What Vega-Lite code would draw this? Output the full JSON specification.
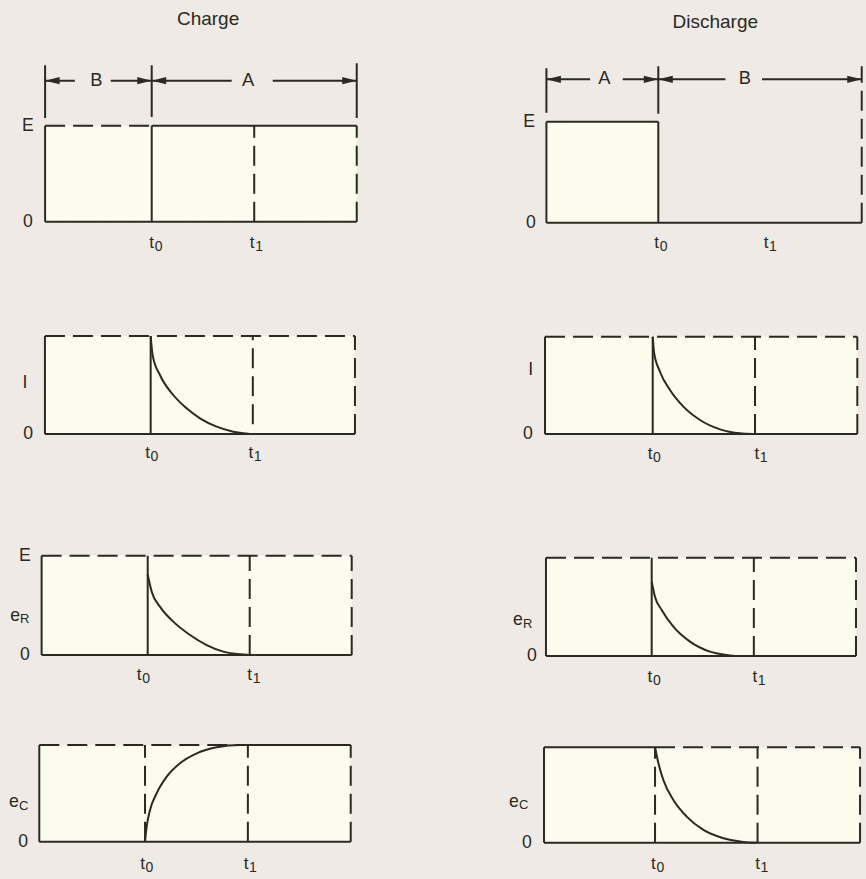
{
"$schema":"https://vega.github.io/schema/vega-lite/v6.json",
"background":"#efeae6",
"padding":0,
"config":{"view":{"stroke":null},"concat":{"spacing":0}},
"datasets":{"d":[
{"p":"C1","g":"area","x":-1.04,"x2":2,"y":0,"y2":1},
{"p":"C1","g":"seg","x":-1.04,"y":1,"x2":0,"y2":1,"k":"dashed"},
{"p":"C1","g":"seg","x":0,"y":1,"x2":2,"y2":1,"k":"solid"},
{"p":"C1","g":"seg","x":-1.04,"y":0,"x2":2,"y2":0,"k":"solid"},
{"p":"C1","g":"seg","x":-1.04,"y":0,"x2":-1.04,"y2":1,"k":"solid"},
{"p":"C1","g":"seg","x":0,"y":0,"x2":0,"y2":1,"k":"solid"},
{"p":"C1","g":"seg","x":1,"y":0,"x2":1,"y2":1,"k":"dashed"},
{"p":"C1","g":"seg","x":2,"y":0,"x2":2,"y2":1,"k":"dashed"},
{"p":"C1","g":"seg","x":-1.04,"y":1.08,"x2":-1.04,"y2":1.63,"k":"solid"},
{"p":"C1","g":"seg","x":0,"y":1.09,"x2":0,"y2":1.63,"k":"solid"},
{"p":"C1","g":"seg","x":2,"y":1.08,"x2":2,"y2":1.65,"k":"solid"},
{"p":"C1","g":"seg","x":-1.04,"y":1.468,"x2":-0.75,"y2":1.468,"k":"solid"},
{"p":"C1","g":"seg","x":-0.4,"y":1.468,"x2":0,"y2":1.468,"k":"solid"},
{"p":"C1","g":"seg","x":0,"y":1.468,"x2":0.78,"y2":1.468,"k":"solid"},
{"p":"C1","g":"seg","x":1.18,"y":1.468,"x2":2,"y2":1.468,"k":"solid"},
{"p":"C1","g":"head","x":-1.04,"y":1.468,"d":"left"},
{"p":"C1","g":"head","x":0,"y":1.468,"d":"right"},
{"p":"C1","g":"head","x":0,"y":1.468,"d":"left"},
{"p":"C1","g":"head","x":2,"y":1.468,"d":"right"},
{"p":"C1","g":"label","x":0.55,"y":2.11,"t":"Charge","r":"title"},
{"p":"C1","g":"label","x":-0.54,"y":1.468,"t":"B","r":"dim"},
{"p":"C1","g":"label","x":0.94,"y":1.468,"t":"A","r":"dim"},
{"p":"C1","g":"label","x":-1.207,"y":1,"t":"E","s":"","r":"side"},
{"p":"C1","g":"label","x":-1.207,"y":0,"t":"0","s":"","r":"side"},
{"p":"C1","g":"label","x":0,"y":-0.222,"t":"t","s":"0","r":"tick"},
{"p":"C1","g":"label","x":0.98,"y":-0.222,"t":"t","s":"1","r":"tick"},

{"p":"D1","g":"area","x":-1.1,"x2":0,"y":0,"y2":1},
{"p":"D1","g":"seg","x":-1.1,"y":1,"x2":0,"y2":1,"k":"solid"},
{"p":"D1","g":"seg","x":-1.1,"y":0,"x2":2,"y2":0,"k":"solid"},
{"p":"D1","g":"seg","x":-1.1,"y":0,"x2":-1.1,"y2":1,"k":"solid"},
{"p":"D1","g":"seg","x":0,"y":0,"x2":0,"y2":1,"k":"solid"},
{"p":"D1","g":"seg","x":2,"y":0,"x2":2,"y2":1.55,"k":"dashed"},
{"p":"D1","g":"seg","x":-1.1,"y":1.09,"x2":-1.1,"y2":1.53,"k":"solid"},
{"p":"D1","g":"seg","x":0,"y":1.08,"x2":0,"y2":1.55,"k":"solid"},
{"p":"D1","g":"seg","x":-1.1,"y":1.42,"x2":-0.67,"y2":1.42,"k":"solid"},
{"p":"D1","g":"seg","x":-0.35,"y":1.42,"x2":0,"y2":1.42,"k":"solid"},
{"p":"D1","g":"seg","x":0,"y":1.42,"x2":0.66,"y2":1.42,"k":"solid"},
{"p":"D1","g":"seg","x":1.02,"y":1.42,"x2":2,"y2":1.42,"k":"solid"},
{"p":"D1","g":"head","x":-1.1,"y":1.42,"d":"left"},
{"p":"D1","g":"head","x":0,"y":1.42,"d":"right"},
{"p":"D1","g":"head","x":0,"y":1.42,"d":"left"},
{"p":"D1","g":"head","x":2,"y":1.42,"d":"right"},
{"p":"D1","g":"label","x":0.56,"y":1.987,"t":"Discharge","r":"title"},
{"p":"D1","g":"label","x":-0.53,"y":1.42,"t":"A","r":"dim"},
{"p":"D1","g":"label","x":0.85,"y":1.42,"t":"B","r":"dim"},
{"p":"D1","g":"label","x":-1.271,"y":1,"t":"E","s":"","r":"side"},
{"p":"D1","g":"label","x":-1.252,"y":0,"t":"0","s":"","r":"side"},
{"p":"D1","g":"label","x":-0.016,"y":-0.205,"t":"t","s":"0","r":"tick"},
{"p":"D1","g":"label","x":1.06,"y":-0.205,"t":"t","s":"1","r":"tick"},

{"p":"C2","g":"area","x":-1.035,"x2":2,"y":0,"y2":1},
{"p":"C2","g":"seg","x":-1.035,"y":1,"x2":2,"y2":1,"k":"dashed"},
{"p":"C2","g":"seg","x":-1.035,"y":0,"x2":2,"y2":0,"k":"solid"},
{"p":"C2","g":"seg","x":-1.035,"y":0,"x2":-1.035,"y2":1,"k":"solid"},
{"p":"C2","g":"seg","x":0,"y":0,"x2":0,"y2":1,"k":"solid"},
{"p":"C2","g":"seg","x":1,"y":0.1,"x2":1,"y2":1,"k":"dashed"},
{"p":"C2","g":"seg","x":2,"y":0,"x2":2,"y2":1,"k":"dashed"},
{"p":"C2","g":"curve","x":0,"y":1},
{"p":"C2","g":"curve","x":0.02,"y":0.8},
{"p":"C2","g":"curve","x":0.091,"y":0.602},
{"p":"C2","g":"curve","x":0.221,"y":0.398},
{"p":"C2","g":"curve","x":0.352,"y":0.262},
{"p":"C2","g":"curve","x":0.483,"y":0.16},
{"p":"C2","g":"curve","x":0.646,"y":0.075},
{"p":"C2","g":"curve","x":0.809,"y":0.024},
{"p":"C2","g":"curve","x":0.907,"y":0.007},
{"p":"C2","g":"curve","x":0.97,"y":0},
{"p":"C2","g":"label","x":-1.23,"y":0.52,"t":"I","s":"","r":"side"},
{"p":"C2","g":"label","x":-1.2,"y":0,"t":"0","s":"","r":"side"},
{"p":"C2","g":"label","x":-0.03,"y":-0.197,"t":"t","s":"0","r":"tick"},
{"p":"C2","g":"label","x":0.98,"y":-0.197,"t":"t","s":"1","r":"tick"},

{"p":"D2","g":"area","x":-1.053,"x2":2,"y":0,"y2":1},
{"p":"D2","g":"seg","x":-1.053,"y":1,"x2":2,"y2":1,"k":"dashed"},
{"p":"D2","g":"seg","x":-1.053,"y":0,"x2":2,"y2":0,"k":"solid"},
{"p":"D2","g":"seg","x":-1.053,"y":0,"x2":-1.053,"y2":1,"k":"solid"},
{"p":"D2","g":"seg","x":0,"y":0,"x2":0,"y2":1,"k":"solid"},
{"p":"D2","g":"seg","x":1,"y":0,"x2":1,"y2":1,"k":"dashed"},
{"p":"D2","g":"seg","x":2,"y":0,"x2":2,"y2":1,"k":"dashed"},
{"p":"D2","g":"curve","x":0,"y":1},
{"p":"D2","g":"curve","x":0.013,"y":0.84},
{"p":"D2","g":"curve","x":0.071,"y":0.64},
{"p":"D2","g":"curve","x":0.169,"y":0.452},
{"p":"D2","g":"curve","x":0.3,"y":0.281},
{"p":"D2","g":"curve","x":0.462,"y":0.144},
{"p":"D2","g":"curve","x":0.658,"y":0.048},
{"p":"D2","g":"curve","x":0.853,"y":0.007},
{"p":"D2","g":"curve","x":0.98,"y":0},
{"p":"D2","g":"label","x":-1.193,"y":0.658,"t":"I","s":"","r":"side"},
{"p":"D2","g":"label","x":-1.219,"y":0,"t":"0","s":"","r":"side"},
{"p":"D2","g":"label","x":-0.026,"y":-0.206,"t":"t","s":"0","r":"tick"},
{"p":"D2","g":"label","x":1.017,"y":-0.206,"t":"t","s":"1","r":"tick"},

{"p":"C3","g":"area","x":-1.04,"x2":2,"y":0,"y2":1},
{"p":"C3","g":"seg","x":-1.04,"y":1,"x2":2,"y2":1,"k":"dashed"},
{"p":"C3","g":"seg","x":-1.04,"y":0,"x2":2,"y2":0,"k":"solid"},
{"p":"C3","g":"seg","x":-1.04,"y":0,"x2":-1.04,"y2":1,"k":"solid"},
{"p":"C3","g":"seg","x":0,"y":0,"x2":0,"y2":1,"k":"solid"},
{"p":"C3","g":"seg","x":1,"y":0,"x2":1,"y2":1,"k":"dashed"},
{"p":"C3","g":"seg","x":2,"y":0,"x2":2,"y2":1,"k":"dashed"},
{"p":"C3","g":"curve","x":0,"y":0.81},
{"p":"C3","g":"curve","x":0.039,"y":0.638},
{"p":"C3","g":"curve","x":0.12,"y":0.487},
{"p":"C3","g":"curve","x":0.251,"y":0.336},
{"p":"C3","g":"curve","x":0.415,"y":0.201},
{"p":"C3","g":"curve","x":0.578,"y":0.1},
{"p":"C3","g":"curve","x":0.742,"y":0.034},
{"p":"C3","g":"curve","x":0.905,"y":0.007},
{"p":"C3","g":"curve","x":1,"y":0},
{"p":"C3","g":"label","x":-1.203,"y":1,"t":"E","s":"","r":"side"},
{"p":"C3","g":"label","x":-1.3,"y":0.393,"t":"e","s":"R","r":"side"},
{"p":"C3","g":"label","x":-1.203,"y":0,"t":"0","s":"","r":"side"},
{"p":"C3","g":"label","x":-0.083,"y":-0.2,"t":"t","s":"0","r":"tick"},
{"p":"C3","g":"label","x":1,"y":-0.2,"t":"t","s":"1","r":"tick"},

{"p":"D3","g":"area","x":-1.035,"x2":2,"y":0,"y2":1},
{"p":"D3","g":"seg","x":-1.035,"y":1,"x2":2,"y2":1,"k":"dashed"},
{"p":"D3","g":"seg","x":-1.035,"y":0,"x2":2,"y2":0,"k":"solid"},
{"p":"D3","g":"seg","x":-1.035,"y":0,"x2":-1.035,"y2":1,"k":"solid"},
{"p":"D3","g":"seg","x":0,"y":0,"x2":0,"y2":1,"k":"solid"},
{"p":"D3","g":"seg","x":1,"y":0,"x2":1,"y2":1,"k":"dashed"},
{"p":"D3","g":"seg","x":2,"y":0,"x2":2,"y2":1,"k":"dashed"},
{"p":"D3","g":"curve","x":0,"y":0.756},
{"p":"D3","g":"curve","x":0.032,"y":0.603},
{"p":"D3","g":"curve","x":0.098,"y":0.468},
{"p":"D3","g":"curve","x":0.212,"y":0.298},
{"p":"D3","g":"curve","x":0.375,"y":0.146},
{"p":"D3","g":"curve","x":0.571,"y":0.044},
{"p":"D3","g":"curve","x":0.734,"y":0.01},
{"p":"D3","g":"curve","x":0.816,"y":0},
{"p":"D3","g":"label","x":-1.309,"y":0.366,"t":"e","s":"R","r":"side"},
{"p":"D3","g":"label","x":-1.172,"y":0,"t":"0","s":"","r":"side"},
{"p":"D3","g":"label","x":-0.017,"y":-0.21,"t":"t","s":"0","r":"tick"},
{"p":"D3","g":"label","x":1.01,"y":-0.21,"t":"t","s":"1","r":"tick"},

{"p":"C4","g":"area","x":-1.028,"x2":2,"y":0,"y2":1},
{"p":"C4","g":"seg","x":-1.028,"y":1,"x2":1,"y2":1,"k":"dashed"},
{"p":"C4","g":"seg","x":1,"y":1,"x2":2,"y2":1,"k":"solid"},
{"p":"C4","g":"seg","x":-1.028,"y":0,"x2":2,"y2":0,"k":"solid"},
{"p":"C4","g":"seg","x":-1.028,"y":0,"x2":-1.028,"y2":1,"k":"solid"},
{"p":"C4","g":"seg","x":0,"y":0,"x2":0,"y2":1,"k":"dashed"},
{"p":"C4","g":"seg","x":1,"y":0,"x2":1,"y2":1,"k":"dashed"},
{"p":"C4","g":"seg","x":2,"y":0,"x2":2,"y2":1,"k":"dashed"},
{"p":"C4","g":"curve","x":0,"y":0},
{"p":"C4","g":"curve","x":0.016,"y":0.155},
{"p":"C4","g":"curve","x":0.049,"y":0.328},
{"p":"C4","g":"curve","x":0.113,"y":0.5},
{"p":"C4","g":"curve","x":0.211,"y":0.672},
{"p":"C4","g":"curve","x":0.34,"y":0.811},
{"p":"C4","g":"curve","x":0.503,"y":0.914},
{"p":"C4","g":"curve","x":0.697,"y":0.976},
{"p":"C4","g":"curve","x":0.924,"y":1},
{"p":"C4","g":"curve","x":1,"y":1},
{"p":"C4","g":"label","x":-1.274,"y":0.41,"t":"e","s":"C","r":"side"},
{"p":"C4","g":"label","x":-1.186,"y":0,"t":"0","s":"","r":"side"},
{"p":"C4","g":"label","x":-0.024,"y":-0.23,"t":"t","s":"0","r":"tick"},
{"p":"C4","g":"label","x":0.983,"y":-0.23,"t":"t","s":"1","r":"tick"},

{"p":"D4","g":"area","x":-1.083,"x2":2,"y":0,"y2":1},
{"p":"D4","g":"seg","x":-1.083,"y":1,"x2":0,"y2":1,"k":"solid"},
{"p":"D4","g":"seg","x":0,"y":1,"x2":2,"y2":1,"k":"dashed"},
{"p":"D4","g":"seg","x":-1.083,"y":0,"x2":2,"y2":0,"k":"solid"},
{"p":"D4","g":"seg","x":-1.083,"y":0,"x2":-1.083,"y2":1,"k":"solid"},
{"p":"D4","g":"seg","x":0,"y":0,"x2":0,"y2":1,"k":"dashed"},
{"p":"D4","g":"seg","x":1,"y":0,"x2":1,"y2":1,"k":"dashed"},
{"p":"D4","g":"seg","x":2,"y":0,"x2":2,"y2":1,"k":"dashed"},
{"p":"D4","g":"curve","x":0,"y":1},
{"p":"D4","g":"curve","x":0.033,"y":0.832},
{"p":"D4","g":"curve","x":0.081,"y":0.657},
{"p":"D4","g":"curve","x":0.179,"y":0.448},
{"p":"D4","g":"curve","x":0.309,"y":0.273},
{"p":"D4","g":"curve","x":0.472,"y":0.133},
{"p":"D4","g":"curve","x":0.667,"y":0.046},
{"p":"D4","g":"curve","x":0.862,"y":0.007},
{"p":"D4","g":"curve","x":0.99,"y":0},
{"p":"D4","g":"label","x":-1.376,"y":0.427,"t":"e","s":"C","r":"side"},
{"p":"D4","g":"label","x":-1.249,"y":0,"t":"0","s":"","r":"side"},
{"p":"D4","g":"label","x":-0.016,"y":-0.223,"t":"t","s":"0","r":"tick"},
{"p":"D4","g":"label","x":1,"y":-0.223,"t":"t","s":"1","r":"tick"}
]},
"spacing":0,
"vconcat":[
{"spacing":0,"hconcat":[
{"width":433,"height":280,"data":{"name":"d"},"transform":[{"filter":"datum.p=='C1'"}],
"encoding":{"x":{"field":"x","type":"quantitative","scale":{"domain":[-1.48,2.744],"nice":false,"zero":false},"axis":null},"y":{"field":"y","type":"quantitative","scale":{"domain":[-0.608,2.309],"nice":false,"zero":false},"axis":null}},
"layer":[
{"transform":[{"filter":"datum.g=='area'"}],"mark":{"type":"rect","fill":"#fbfbee"},"encoding":{"x2":{"field":"x2"},"y2":{"field":"y2"}}},
{"transform":[{"filter":"datum.g=='seg'"}],"mark":{"type":"rule","color":"#2a2a22","strokeWidth":2},"encoding":{"x2":{"field":"x2"},"y2":{"field":"y2"},"strokeDash":{"field":"k","type":"nominal","scale":{"domain":["solid","dashed"],"range":[[1,0],[20,8]]},"legend":null}}},
{"transform":[{"filter":"datum.g=='curve'"}],"mark":{"type":"line","color":"#2a2a22","strokeWidth":2,"interpolate":"monotone"}},
{"transform":[{"filter":"datum.g=='head'"}],"mark":{"type":"point","filled":true,"color":"#2a2a22","size":210,"opacity":1},"encoding":{"shape":{"field":"d","type":"nominal","scale":{"domain":["left","right"],"range":["M0,0L2,-0.5L2,0.5Z","M0,0L-2,-0.5L-2,0.5Z"]},"legend":null}}},
{"transform":[{"filter":"datum.g=='label'"}],"mark":{"type":"text","color":"#2a2a22","font":"Liberation Sans","align":"center","baseline":"middle"},"encoding":{"text":{"field":"t"},"size":{"field":"r","type":"ordinal","scale":{"domain":["title","dim","side","tick"],"range":[19,17,17,19]},"legend":null}}},
{"transform":[{"filter":"datum.g=='label' && datum.r=='tick'"}],"mark":{"type":"text","color":"#2a2a22","font":"Liberation Sans","align":"left","baseline":"middle","fontSize":14,"dx":3,"dy":4},"encoding":{"text":{"field":"s"}}},
{"transform":[{"filter":"datum.g=='label' && datum.r=='side'"}],"mark":{"type":"text","color":"#2a2a22","font":"Liberation Sans","align":"left","baseline":"middle","fontSize":13,"dx":5,"dy":3.5},"encoding":{"text":{"field":"s"}}}
]},
{"width":433,"height":280,"data":{"name":"d"},"transform":[{"filter":"datum.p=='D1'"}],
"encoding":{"x":{"field":"x","type":"quantitative","scale":{"domain":[-2.215,2.042],"nice":false,"zero":false},"axis":null},"y":{"field":"y","type":"quantitative","scale":{"domain":[-0.567,2.205],"nice":false,"zero":false},"axis":null}},
"layer":[
{"transform":[{"filter":"datum.g=='area'"}],"mark":{"type":"rect","fill":"#fbfbee"},"encoding":{"x2":{"field":"x2"},"y2":{"field":"y2"}}},
{"transform":[{"filter":"datum.g=='seg'"}],"mark":{"type":"rule","color":"#2a2a22","strokeWidth":2},"encoding":{"x2":{"field":"x2"},"y2":{"field":"y2"},"strokeDash":{"field":"k","type":"nominal","scale":{"domain":["solid","dashed"],"range":[[1,0],[20,8]]},"legend":null}}},
{"transform":[{"filter":"datum.g=='curve'"}],"mark":{"type":"line","color":"#2a2a22","strokeWidth":2,"interpolate":"monotone"}},
{"transform":[{"filter":"datum.g=='head'"}],"mark":{"type":"point","filled":true,"color":"#2a2a22","size":210,"opacity":1},"encoding":{"shape":{"field":"d","type":"nominal","scale":{"domain":["left","right"],"range":["M0,0L2,-0.5L2,0.5Z","M0,0L-2,-0.5L-2,0.5Z"]},"legend":null}}},
{"transform":[{"filter":"datum.g=='label'"}],"mark":{"type":"text","color":"#2a2a22","font":"Liberation Sans","align":"center","baseline":"middle"},"encoding":{"text":{"field":"t"},"size":{"field":"r","type":"ordinal","scale":{"domain":["title","dim","side","tick"],"range":[19,17,17,19]},"legend":null}}},
{"transform":[{"filter":"datum.g=='label' && datum.r=='tick'"}],"mark":{"type":"text","color":"#2a2a22","font":"Liberation Sans","align":"left","baseline":"middle","fontSize":14,"dx":3,"dy":4},"encoding":{"text":{"field":"s"}}},
{"transform":[{"filter":"datum.g=='label' && datum.r=='side'"}],"mark":{"type":"text","color":"#2a2a22","font":"Liberation Sans","align":"left","baseline":"middle","fontSize":13,"dx":5,"dy":3.5},"encoding":{"text":{"field":"s"}}}
]}
]},
{"spacing":0,"hconcat":[
{"width":433,"height":215,"data":{"name":"d"},"transform":[{"filter":"datum.p=='C2'"}],
"encoding":{"x":{"field":"x","type":"quantitative","scale":{"domain":[-1.475,2.764],"nice":false,"zero":false},"axis":null},"y":{"field":"y","type":"quantitative","scale":{"domain":[-0.622,1.571],"nice":false,"zero":false},"axis":null}},
"layer":[
{"transform":[{"filter":"datum.g=='area'"}],"mark":{"type":"rect","fill":"#fbfbee"},"encoding":{"x2":{"field":"x2"},"y2":{"field":"y2"}}},
{"transform":[{"filter":"datum.g=='seg'"}],"mark":{"type":"rule","color":"#2a2a22","strokeWidth":2},"encoding":{"x2":{"field":"x2"},"y2":{"field":"y2"},"strokeDash":{"field":"k","type":"nominal","scale":{"domain":["solid","dashed"],"range":[[1,0],[20,8]]},"legend":null}}},
{"transform":[{"filter":"datum.g=='curve'"}],"mark":{"type":"line","color":"#2a2a22","strokeWidth":2,"interpolate":"monotone"}},
{"transform":[{"filter":"datum.g=='label'"}],"mark":{"type":"text","color":"#2a2a22","font":"Liberation Sans","align":"center","baseline":"middle"},"encoding":{"text":{"field":"t"},"size":{"field":"r","type":"ordinal","scale":{"domain":["title","dim","side","tick"],"range":[19,17,17,19]},"legend":null}}},
{"transform":[{"filter":"datum.g=='label' && datum.r=='tick'"}],"mark":{"type":"text","color":"#2a2a22","font":"Liberation Sans","align":"left","baseline":"middle","fontSize":14,"dx":3,"dy":4},"encoding":{"text":{"field":"s"}}},
{"transform":[{"filter":"datum.g=='label' && datum.r=='side'"}],"mark":{"type":"text","color":"#2a2a22","font":"Liberation Sans","align":"left","baseline":"middle","fontSize":13,"dx":5,"dy":3.5},"encoding":{"text":{"field":"s"}}}
]},
{"width":433,"height":215,"data":{"name":"d"},"transform":[{"filter":"datum.p=='D2'"}],
"encoding":{"x":{"field":"x","type":"quantitative","scale":{"domain":[-2.148,2.085],"nice":false,"zero":false},"axis":null},"y":{"field":"y","type":"quantitative","scale":{"domain":[-0.627,1.583],"nice":false,"zero":false},"axis":null}},
"layer":[
{"transform":[{"filter":"datum.g=='area'"}],"mark":{"type":"rect","fill":"#fbfbee"},"encoding":{"x2":{"field":"x2"},"y2":{"field":"y2"}}},
{"transform":[{"filter":"datum.g=='seg'"}],"mark":{"type":"rule","color":"#2a2a22","strokeWidth":2},"encoding":{"x2":{"field":"x2"},"y2":{"field":"y2"},"strokeDash":{"field":"k","type":"nominal","scale":{"domain":["solid","dashed"],"range":[[1,0],[20,8]]},"legend":null}}},
{"transform":[{"filter":"datum.g=='curve'"}],"mark":{"type":"line","color":"#2a2a22","strokeWidth":2,"interpolate":"monotone"}},
{"transform":[{"filter":"datum.g=='label'"}],"mark":{"type":"text","color":"#2a2a22","font":"Liberation Sans","align":"center","baseline":"middle"},"encoding":{"text":{"field":"t"},"size":{"field":"r","type":"ordinal","scale":{"domain":["title","dim","side","tick"],"range":[19,17,17,19]},"legend":null}}},
{"transform":[{"filter":"datum.g=='label' && datum.r=='tick'"}],"mark":{"type":"text","color":"#2a2a22","font":"Liberation Sans","align":"left","baseline":"middle","fontSize":14,"dx":3,"dy":4},"encoding":{"text":{"field":"s"}}},
{"transform":[{"filter":"datum.g=='label' && datum.r=='side'"}],"mark":{"type":"text","color":"#2a2a22","font":"Liberation Sans","align":"left","baseline":"middle","fontSize":13,"dx":5,"dy":3.5},"encoding":{"text":{"field":"s"}}}
]}
]},
{"spacing":0,"hconcat":[
{"width":433,"height":200,"data":{"name":"d"},"transform":[{"filter":"datum.p=='C3'"}],
"encoding":{"x":{"field":"x","type":"quantitative","scale":{"domain":[-1.448,2.797],"nice":false,"zero":false},"axis":null},"y":{"field":"y","type":"quantitative","scale":{"domain":[-0.403,1.611],"nice":false,"zero":false},"axis":null}},
"layer":[
{"transform":[{"filter":"datum.g=='area'"}],"mark":{"type":"rect","fill":"#fbfbee"},"encoding":{"x2":{"field":"x2"},"y2":{"field":"y2"}}},
{"transform":[{"filter":"datum.g=='seg'"}],"mark":{"type":"rule","color":"#2a2a22","strokeWidth":2},"encoding":{"x2":{"field":"x2"},"y2":{"field":"y2"},"strokeDash":{"field":"k","type":"nominal","scale":{"domain":["solid","dashed"],"range":[[1,0],[20,8]]},"legend":null}}},
{"transform":[{"filter":"datum.g=='curve'"}],"mark":{"type":"line","color":"#2a2a22","strokeWidth":2,"interpolate":"monotone"}},
{"transform":[{"filter":"datum.g=='label'"}],"mark":{"type":"text","color":"#2a2a22","font":"Liberation Sans","align":"center","baseline":"middle"},"encoding":{"text":{"field":"t"},"size":{"field":"r","type":"ordinal","scale":{"domain":["title","dim","side","tick"],"range":[19,17,17,19]},"legend":null}}},
{"transform":[{"filter":"datum.g=='label' && datum.r=='tick'"}],"mark":{"type":"text","color":"#2a2a22","font":"Liberation Sans","align":"left","baseline":"middle","fontSize":14,"dx":3,"dy":4},"encoding":{"text":{"field":"s"}}},
{"transform":[{"filter":"datum.g=='label' && datum.r=='side'"}],"mark":{"type":"text","color":"#2a2a22","font":"Liberation Sans","align":"left","baseline":"middle","fontSize":13,"dx":5,"dy":3.5},"encoding":{"text":{"field":"s"}}}
]},
{"width":433,"height":200,"data":{"name":"d"},"transform":[{"filter":"datum.p=='D3'"}],
"encoding":{"x":{"field":"x","type":"quantitative","scale":{"domain":[-2.141,2.098],"nice":false,"zero":false},"axis":null},"y":{"field":"y","type":"quantitative","scale":{"domain":[-0.397,1.638],"nice":false,"zero":false},"axis":null}},
"layer":[
{"transform":[{"filter":"datum.g=='area'"}],"mark":{"type":"rect","fill":"#fbfbee"},"encoding":{"x2":{"field":"x2"},"y2":{"field":"y2"}}},
{"transform":[{"filter":"datum.g=='seg'"}],"mark":{"type":"rule","color":"#2a2a22","strokeWidth":2},"encoding":{"x2":{"field":"x2"},"y2":{"field":"y2"},"strokeDash":{"field":"k","type":"nominal","scale":{"domain":["solid","dashed"],"range":[[1,0],[20,8]]},"legend":null}}},
{"transform":[{"filter":"datum.g=='curve'"}],"mark":{"type":"line","color":"#2a2a22","strokeWidth":2,"interpolate":"monotone"}},
{"transform":[{"filter":"datum.g=='label'"}],"mark":{"type":"text","color":"#2a2a22","font":"Liberation Sans","align":"center","baseline":"middle"},"encoding":{"text":{"field":"t"},"size":{"field":"r","type":"ordinal","scale":{"domain":["title","dim","side","tick"],"range":[19,17,17,19]},"legend":null}}},
{"transform":[{"filter":"datum.g=='label' && datum.r=='tick'"}],"mark":{"type":"text","color":"#2a2a22","font":"Liberation Sans","align":"left","baseline":"middle","fontSize":14,"dx":3,"dy":4},"encoding":{"text":{"field":"s"}}},
{"transform":[{"filter":"datum.g=='label' && datum.r=='side'"}],"mark":{"type":"text","color":"#2a2a22","font":"Liberation Sans","align":"left","baseline":"middle","fontSize":13,"dx":5,"dy":3.5},"encoding":{"text":{"field":"s"}}}
]}
]},
{"spacing":0,"hconcat":[
{"width":433,"height":184,"data":{"name":"d"},"transform":[{"filter":"datum.p=='C4'"}],
"encoding":{"x":{"field":"x","type":"quantitative","scale":{"domain":[-1.41,2.8],"nice":false,"zero":false},"axis":null},"y":{"field":"y","type":"quantitative","scale":{"domain":[-0.386,1.517],"nice":false,"zero":false},"axis":null}},
"layer":[
{"transform":[{"filter":"datum.g=='area'"}],"mark":{"type":"rect","fill":"#fbfbee"},"encoding":{"x2":{"field":"x2"},"y2":{"field":"y2"}}},
{"transform":[{"filter":"datum.g=='seg'"}],"mark":{"type":"rule","color":"#2a2a22","strokeWidth":2},"encoding":{"x2":{"field":"x2"},"y2":{"field":"y2"},"strokeDash":{"field":"k","type":"nominal","scale":{"domain":["solid","dashed"],"range":[[1,0],[20,8]]},"legend":null}}},
{"transform":[{"filter":"datum.g=='curve'"}],"mark":{"type":"line","color":"#2a2a22","strokeWidth":2,"interpolate":"monotone"}},
{"transform":[{"filter":"datum.g=='label'"}],"mark":{"type":"text","color":"#2a2a22","font":"Liberation Sans","align":"center","baseline":"middle"},"encoding":{"text":{"field":"t"},"size":{"field":"r","type":"ordinal","scale":{"domain":["title","dim","side","tick"],"range":[19,17,17,19]},"legend":null}}},
{"transform":[{"filter":"datum.g=='label' && datum.r=='tick'"}],"mark":{"type":"text","color":"#2a2a22","font":"Liberation Sans","align":"left","baseline":"middle","fontSize":14,"dx":3,"dy":4},"encoding":{"text":{"field":"s"}}},
{"transform":[{"filter":"datum.g=='label' && datum.r=='side'"}],"mark":{"type":"text","color":"#2a2a22","font":"Liberation Sans","align":"left","baseline":"middle","fontSize":13,"dx":5,"dy":3.5},"encoding":{"text":{"field":"s"}}}
]},
{"width":433,"height":184,"data":{"name":"d"},"transform":[{"filter":"datum.p=='D4'"}],
"encoding":{"x":{"field":"x","type":"quantitative","scale":{"domain":[-2.166,2.058],"nice":false,"zero":false},"axis":null},"y":{"field":"y","type":"quantitative","scale":{"domain":[-0.381,1.548],"nice":false,"zero":false},"axis":null}},
"layer":[
{"transform":[{"filter":"datum.g=='area'"}],"mark":{"type":"rect","fill":"#fbfbee"},"encoding":{"x2":{"field":"x2"},"y2":{"field":"y2"}}},
{"transform":[{"filter":"datum.g=='seg'"}],"mark":{"type":"rule","color":"#2a2a22","strokeWidth":2},"encoding":{"x2":{"field":"x2"},"y2":{"field":"y2"},"strokeDash":{"field":"k","type":"nominal","scale":{"domain":["solid","dashed"],"range":[[1,0],[20,8]]},"legend":null}}},
{"transform":[{"filter":"datum.g=='curve'"}],"mark":{"type":"line","color":"#2a2a22","strokeWidth":2,"interpolate":"monotone"}},
{"transform":[{"filter":"datum.g=='label'"}],"mark":{"type":"text","color":"#2a2a22","font":"Liberation Sans","align":"center","baseline":"middle"},"encoding":{"text":{"field":"t"},"size":{"field":"r","type":"ordinal","scale":{"domain":["title","dim","side","tick"],"range":[19,17,17,19]},"legend":null}}},
{"transform":[{"filter":"datum.g=='label' && datum.r=='tick'"}],"mark":{"type":"text","color":"#2a2a22","font":"Liberation Sans","align":"left","baseline":"middle","fontSize":14,"dx":3,"dy":4},"encoding":{"text":{"field":"s"}}},
{"transform":[{"filter":"datum.g=='label' && datum.r=='side'"}],"mark":{"type":"text","color":"#2a2a22","font":"Liberation Sans","align":"left","baseline":"middle","fontSize":13,"dx":5,"dy":3.5},"encoding":{"text":{"field":"s"}}}
]}
]}
]
}
